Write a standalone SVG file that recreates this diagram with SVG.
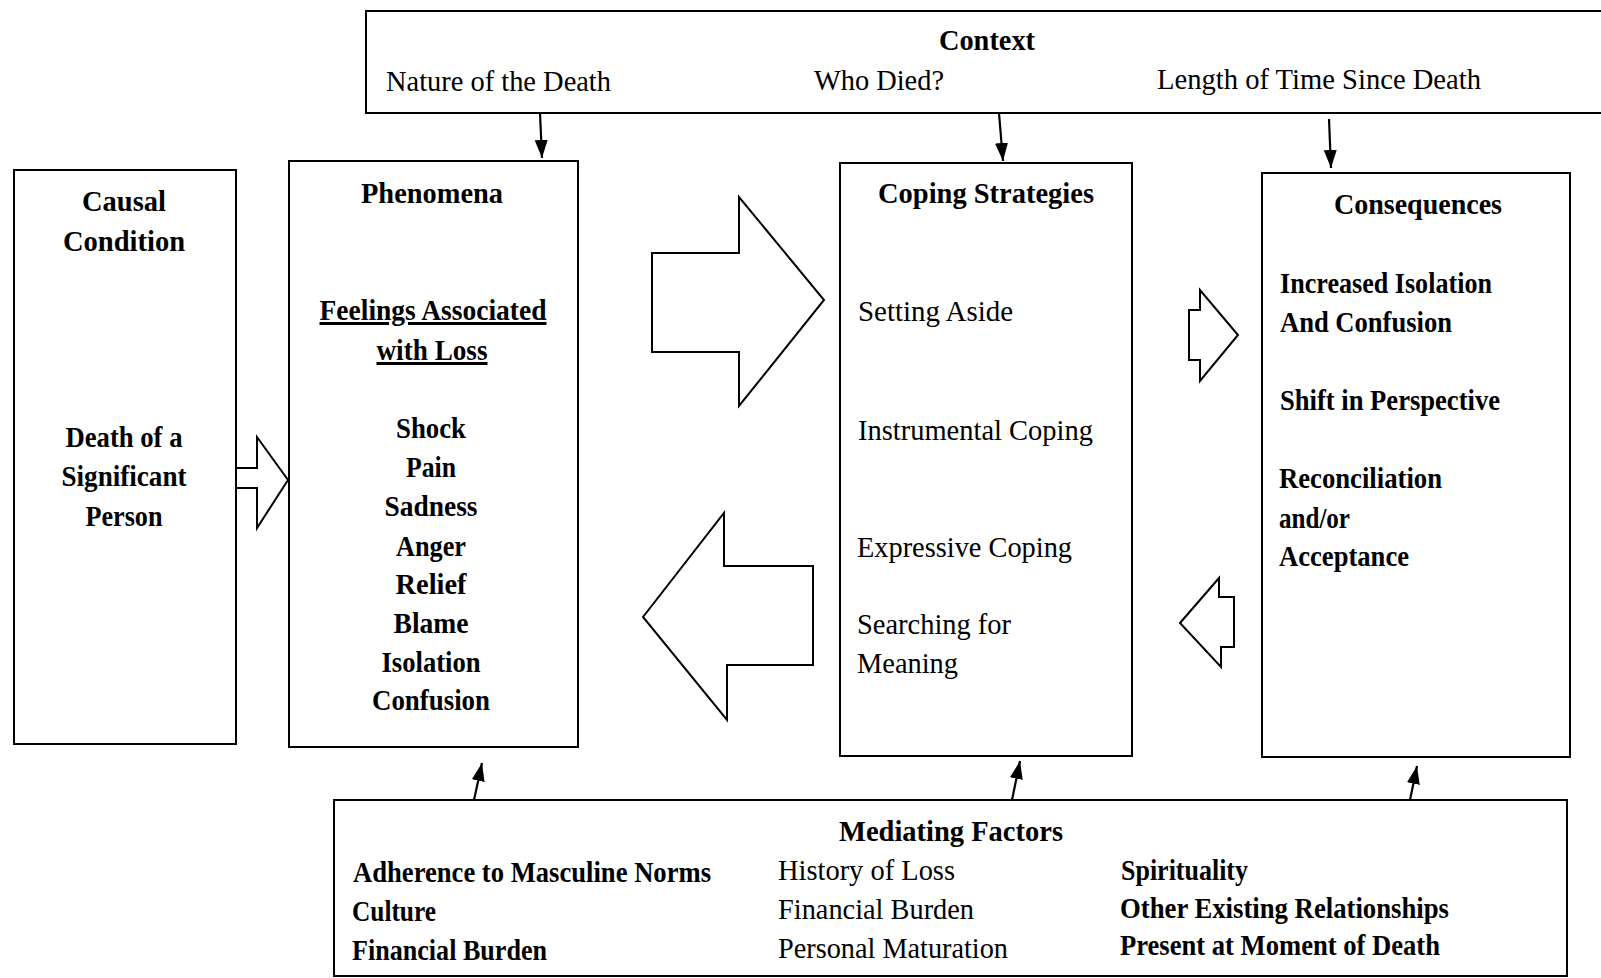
<svg xmlns="http://www.w3.org/2000/svg" width="1601" height="978" viewBox="0 0 1601 978">
<defs>
<marker id="ah" markerUnits="userSpaceOnUse" markerWidth="20" markerHeight="16" viewBox="0 0 20 16" refX="18" refY="8" orient="auto">
<path d="M0,1.5 L18,8 L0,14.5 Z" fill="#000"/>
</marker>
<style>
.box{fill:#fff;stroke:#000;stroke-width:2}
.blk{fill:#fff;stroke:#000;stroke-width:2;stroke-linejoin:miter}
.ln{stroke:#000;stroke-width:2.2;fill:none}
text{font-family:"Liberation Serif","Times New Roman",serif;font-size:30px;fill:#000}
.b{font-weight:bold}
.c{text-anchor:middle}
.u{text-decoration:underline}
</style>
</defs>
<rect width="1601" height="978" fill="#fff"/>

<g id="context">
<rect class="box" x="366" y="11" width="1300" height="102"/>
<text class="b c" x="987" y="50" textLength="96" lengthAdjust="spacingAndGlyphs">Context</text>
<text x="386" y="91" textLength="225" lengthAdjust="spacingAndGlyphs">Nature of the Death</text>
<text x="814" y="90" textLength="130" lengthAdjust="spacingAndGlyphs">Who Died?</text>
<text x="1157" y="89" textLength="324" lengthAdjust="spacingAndGlyphs">Length of Time Since Death</text>
</g>

<g id="causal">
<rect class="box" x="14" y="170" width="222" height="574"/>
<text class="b c" x="124" y="211" textLength="84" lengthAdjust="spacingAndGlyphs">Causal</text>
<text class="b c" x="124" y="251" textLength="122" lengthAdjust="spacingAndGlyphs">Condition</text>
<text class="b c" x="124" y="447" textLength="117" lengthAdjust="spacingAndGlyphs">Death of a</text>
<text class="b c" x="124" y="486" textLength="125" lengthAdjust="spacingAndGlyphs">Significant</text>
<text class="b c" x="124" y="526" textLength="77" lengthAdjust="spacingAndGlyphs">Person</text>
</g>

<g id="phenomena">
<rect class="box" x="289" y="161" width="289" height="586"/>
<text class="b c" x="432" y="203" textLength="142" lengthAdjust="spacingAndGlyphs">Phenomena</text>
<text class="b c u" x="433" y="320" textLength="227" lengthAdjust="spacingAndGlyphs">Feelings Associated</text>
<text class="b c u" x="432" y="360" textLength="111" lengthAdjust="spacingAndGlyphs">with Loss</text>
<text class="b c" x="431" y="438" textLength="70" lengthAdjust="spacingAndGlyphs">Shock</text>
<text class="b c" x="431" y="477" textLength="50" lengthAdjust="spacingAndGlyphs">Pain</text>
<text class="b c" x="431" y="516" textLength="93" lengthAdjust="spacingAndGlyphs">Sadness</text>
<text class="b c" x="431" y="556" textLength="70" lengthAdjust="spacingAndGlyphs">Anger</text>
<text class="b c" x="431" y="594" textLength="71" lengthAdjust="spacingAndGlyphs">Relief</text>
<text class="b c" x="431" y="633" textLength="75" lengthAdjust="spacingAndGlyphs">Blame</text>
<text class="b c" x="431" y="672" textLength="99" lengthAdjust="spacingAndGlyphs">Isolation</text>
<text class="b c" x="431" y="710" textLength="118" lengthAdjust="spacingAndGlyphs">Confusion</text>
</g>

<g id="coping">
<rect class="box" x="840" y="163" width="292" height="593"/>
<text class="b c" x="986" y="203" textLength="216" lengthAdjust="spacingAndGlyphs">Coping Strategies</text>
<text x="858" y="321" textLength="155" lengthAdjust="spacingAndGlyphs">Setting Aside</text>
<text x="858" y="440" textLength="235" lengthAdjust="spacingAndGlyphs">Instrumental Coping</text>
<text x="857" y="557" textLength="215" lengthAdjust="spacingAndGlyphs">Expressive Coping</text>
<text x="857" y="634" textLength="154" lengthAdjust="spacingAndGlyphs">Searching for</text>
<text x="857" y="673" textLength="101" lengthAdjust="spacingAndGlyphs">Meaning</text>
</g>

<g id="consequences">
<rect class="box" x="1262" y="173" width="308" height="584"/>
<text class="b c" x="1418" y="214" textLength="168" lengthAdjust="spacingAndGlyphs">Consequences</text>
<text class="b" x="1280" y="293" textLength="212" lengthAdjust="spacingAndGlyphs">Increased Isolation</text>
<text class="b" x="1280" y="332" textLength="172" lengthAdjust="spacingAndGlyphs">And Confusion</text>
<text class="b" x="1280" y="410" textLength="220" lengthAdjust="spacingAndGlyphs">Shift in Perspective</text>
<text class="b" x="1279" y="488" textLength="163" lengthAdjust="spacingAndGlyphs">Reconciliation</text>
<text class="b" x="1279" y="528" textLength="71" lengthAdjust="spacingAndGlyphs">and/or</text>
<text class="b" x="1279" y="566" textLength="130" lengthAdjust="spacingAndGlyphs">Acceptance</text>
</g>

<g id="mediating">
<rect class="box" x="334" y="800" width="1233" height="176"/>
<text class="b c" x="951" y="841" textLength="224" lengthAdjust="spacingAndGlyphs">Mediating Factors</text>
<text class="b" x="353" y="882" textLength="358" lengthAdjust="spacingAndGlyphs">Adherence to Masculine Norms</text>
<text class="b" x="352" y="921" textLength="84" lengthAdjust="spacingAndGlyphs">Culture</text>
<text class="b" x="352" y="960" textLength="195" lengthAdjust="spacingAndGlyphs">Financial Burden</text>
<text x="778" y="880" textLength="177" lengthAdjust="spacingAndGlyphs">History of Loss</text>
<text x="778" y="919" textLength="196" lengthAdjust="spacingAndGlyphs">Financial Burden</text>
<text x="778" y="958" textLength="230" lengthAdjust="spacingAndGlyphs">Personal Maturation</text>
<text class="b" x="1121" y="880" textLength="127" lengthAdjust="spacingAndGlyphs">Spirituality</text>
<text class="b" x="1120" y="918" textLength="329" lengthAdjust="spacingAndGlyphs">Other Existing Relationships</text>
<text class="b" x="1120" y="955" textLength="320" lengthAdjust="spacingAndGlyphs">Present at Moment of Death</text>
</g>

<g id="connectors">
<polygon class="blk" points="236,468 257,468 257,437 288,480 257,528 257,488 236,488"/>
<polygon class="blk" points="652,253 739,253 739,197 824,300 739,406 739,352 652,352"/>
<polygon class="blk" points="643,617 724,513 724,566 813,566 813,665 727,665 727,720"/>
<polygon class="blk" points="1189,310 1200,310 1200,290 1238,335 1200,381 1200,360 1189,360"/>
<polygon class="blk" points="1180,623 1219,578 1219,597 1234,597 1234,647 1221,647 1221,667"/>
<line class="ln" x1="540" y1="113" x2="542" y2="158" marker-end="url(#ah)"/>
<line class="ln" x1="999" y1="113" x2="1003" y2="161" marker-end="url(#ah)"/>
<line class="ln" x1="1329" y1="119" x2="1331" y2="168" marker-end="url(#ah)"/>
<line class="ln" x1="474" y1="800" x2="482" y2="763" marker-end="url(#ah)"/>
<line class="ln" x1="1012" y1="800" x2="1020" y2="761" marker-end="url(#ah)"/>
<line class="ln" x1="1410" y1="800" x2="1417" y2="766" marker-end="url(#ah)"/>
</g>
</svg>
